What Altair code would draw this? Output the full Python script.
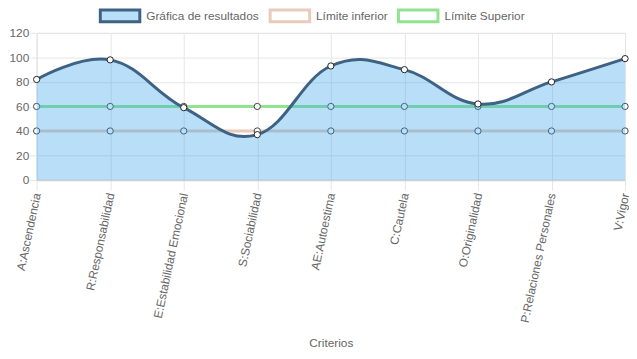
import json
import altair as alt
import pandas as pd

categorias = [
    "A:Ascendencia",
    "R:Responsabilidad",
    "E:Estabilidad Emocional",
    "S:Sociabilidad",
    "AE:Autoestima",
    "C:Cautela",
    "O:Originalidad",
    "P:Relaciones Personales",
    "V:Vigor",
]
resultados = [82, 98, 59, 37, 93, 90, 62, 80, 99]
limite_inferior = [40, 40, 40, 40, 40, 40, 40, 40, 40]
limite_superior = [60, 60, 60, 60, 60, 60, 60, 60, 60]
series = ["Gráfica de resultados", "Límite inferior", "Límite Superior"]
y_ticks = [0, 20, 40, 60, 80, 100, 120]

FONT = "Liberation Sans"
GRID = "#e6e6e6"
TEXT = "#666666"
LINE_BLUE = "#3e6283"
FILL_BLUE = "rgba(54,162,235,0.35)"
PEACH = "#e8cbbb"
GREEN = "#90e490"

rows = []
for name, vals in zip(series, [resultados, limite_inferior, limite_superior]):
    for i, (c, v) in enumerate(zip(categorias, vals)):
        rows.append({"criterio": c, "valor": v, "serie": name, "orden": i})
df = pd.DataFrame(rows)

x_positions = list(range(len(categorias)))
label_expr = json.dumps(categorias, ensure_ascii=False) + "[datum.value]"

x_enc = alt.X(
    "orden:Q",
    scale=alt.Scale(domain=[0, len(categorias) - 1], nice=False, zero=False),
    axis=alt.Axis(
        title="Criterios",
        values=x_positions,
        labelExpr=label_expr,
        labelAngle=-78,
        labelAlign="right",
        labelBaseline="middle",
        labelPadding=3,
        labelFontSize=12,
        labelColor=TEXT,
        labelFont=FONT,
        labelFlush=False,
        labelOverlap=False,
        titleFontSize=12,
        titleColor=TEXT,
        titleFont=FONT,
        titleFontWeight="normal",
        titleY=165,
        titleBaseline="middle",
        grid=True,
        gridColor=GRID,
        tickColor=GRID,
        tickSize=10,
        domainColor="#cfcfcf",
        domainWidth=1.5,
    ),
)
y_axis = alt.Axis(
    title=None,
    values=y_ticks,
    labelFontSize=12,
    labelColor=TEXT,
    labelFont=FONT,
    labelPadding=1,
    grid=True,
    gridColor=GRID,
    tickColor=GRID,
    tickSize=7,
    domain=False,
)
y_scale = alt.Scale(domain=[0, 120], nice=False)
y_enc = alt.Y("valor:Q", scale=y_scale, axis=y_axis)

stroke_enc = alt.Stroke(
    "serie:N",
    scale=alt.Scale(domain=series, range=[LINE_BLUE, PEACH, GREEN]),
    legend=alt.Legend(
        title=None,
        orient="none",
        legendX=63,
        legendY=-39,
        direction="horizontal",
        columns=3,
        symbolType="M-1,-0.3H1V0.3H-1Z",
        symbolSize=1600,
        symbolStrokeWidth=3,
        symbolFillColor=alt.ExprRef(
            "datum.value === 'Gráfica de resultados' ? 'rgba(54,162,235,0.35)' : 'white'"
        ),
        labelFont=FONT,
        labelFontSize=12,
        labelColor=TEXT,
        labelOffset=5,
        columnPadding=4,
        padding=0,
    ),
)

base = alt.Chart(df)

limits = base.transform_filter(alt.datum.serie != series[0])
res = base.transform_filter(alt.datum.serie == series[0])

limit_lines = limits.mark_line(strokeWidth=3).encode(
    x=x_enc, y=y_enc, stroke=stroke_enc, detail="serie:N"
)
limit_points = limits.mark_point(
    shape="circle", filled=True, fill="white", stroke="#444444", strokeWidth=1, size=40, opacity=1
).encode(x=x_enc, y=y_enc)

res_area = res.mark_area(
    interpolate="cardinal", tension=-0.2, fill=FILL_BLUE, opacity=1
).encode(x=x_enc, y=y_enc)
res_line = res.mark_line(
    interpolate="cardinal", tension=-0.2, strokeWidth=3
).encode(x=x_enc, y=y_enc, stroke=stroke_enc)
res_points = res.mark_point(
    shape="circle", filled=True, fill="white", stroke="#222222", strokeWidth=1, size=40, opacity=1
).encode(x=x_enc, y=y_enc)

chart = (
    alt.layer(limit_lines, limit_points, res_area, res_line, res_points)
    .properties(
        width=596,
        height=149,
        autosize=alt.AutoSizeParams(type="none"),
        padding={"left": 29, "top": 23, "right": 4, "bottom": 171},
        background="white",
    )
    .configure_view(stroke="transparent")
    .configure(font=FONT)
)

chart.save("out.html", embed_options={"renderer": "svg", "actions": False})
